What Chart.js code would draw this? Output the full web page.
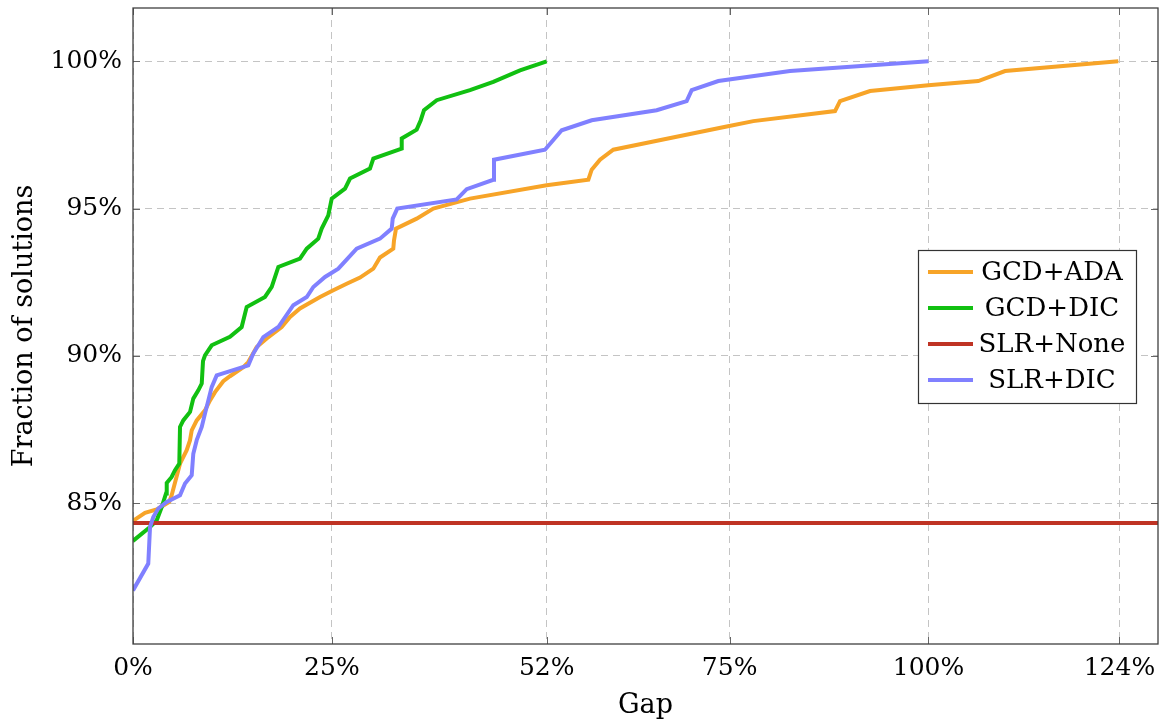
<!DOCTYPE html>
<html>
<head>
<meta charset="utf-8">
<script src="https://cdn.jsdelivr.net/npm/chart.js@4.4.1/dist/chart.umd.min.js"></script>
<style>
  html, body { margin: 0; padding: 0; background: #fff; }
  #wrap { width: 1159px; height: 723px; }
</style>
</head>
<body>
<div id="wrap"><canvas id="grafica" width="1159" height="723"></canvas></div>
<script>
// values (gap in %, fraction of solutions in %)
const seriesNames = ['GCD+ADA', 'GCD+DIC', 'SLR+None', 'SLR+DIC'];
const seriesColors = ['#F7A428', '#11C011', '#BF3324', '#8080FF'];

const gcdAdaX = [0, 1.51, 2.98, 3.61, 4.56, 4.86, 5.91, 6.75, 7.17, 7.38, 8.01, 9.05, 9.68, 10.31, 11.35,
  12.19, 13.87, 14.49, 15.55, 16.81, 18.69, 19.74, 20.99, 23.51, 25.18, 26.86, 28.54, 30.21, 31.05, 32.72,
  32.81, 33.06, 35.66, 37.75, 42.36, 52.0, 57.24, 57.66, 58.71, 60.38, 65.41, 74.63, 77.98, 88.25, 88.88,
  92.65, 99.97, 106.26, 109.62, 123.86];
const gcdAdaY = [84.40, 84.67, 84.79, 84.89, 85.04, 85.27, 86.34, 86.80, 87.14, 87.47, 87.81, 88.15, 88.49, 88.77, 89.14,
  89.31, 89.62, 89.79, 90.30, 90.59, 90.98, 91.32, 91.61, 92.00, 92.23, 92.45, 92.66, 92.96, 93.34, 93.64,
  93.92, 94.32, 94.66, 95.00, 95.34, 95.79, 95.98, 96.32, 96.66, 97.00, 97.28, 97.79, 97.97, 98.31, 98.65,
  98.99, 99.19, 99.33, 99.67, 100];

const gcdDicX = [0, 2.14, 2.98, 3.61, 4.15, 4.24, 4.86, 5.28, 5.82, 5.91, 6.32, 7.17, 7.58, 8.21, 8.64,
  8.80, 9.05, 9.89, 12.19, 13.66, 14.29, 16.59, 17.44, 18.27, 20.99, 21.84, 23.29, 23.72, 24.55, 24.98,
  26.65, 27.28, 29.79, 30.21, 33.78, 33.78, 35.66, 36.17, 36.58, 38.18, 42.36, 45.29, 48.65, 52.0];
const gcdDicY = [83.72, 84.19, 84.42, 84.87, 85.33, 85.69, 85.89, 86.12, 86.34, 87.59, 87.81, 88.10, 88.55, 88.83, 89.06,
  89.82, 90.02, 90.36, 90.65, 90.98, 91.66, 92.00, 92.34, 93.02, 93.30, 93.64, 93.98, 94.32, 94.77, 95.34,
  95.68, 96.02, 96.36, 96.70, 97.04, 97.38, 97.68, 98.00, 98.34, 98.68, 99.02, 99.30, 99.69, 100];

const slrNoneX = [0, 128.85];
const slrNoneY = [84.33, 84.33];

const slrDicX = [0, 1.92, 2.14, 2.55, 3.18, 4.24, 5.91, 6.54, 7.38, 7.58, 8.01, 8.64, 9.05, 9.47, 9.89,
  10.52, 14.49, 15.12, 16.38, 18.27, 20.15, 21.84, 22.67, 24.14, 25.81, 28.12, 31.05, 32.52, 32.65, 33.22,
  40.69, 41.95, 45.29, 45.38, 51.79, 53.89, 57.66, 65.83, 69.60, 70.23, 73.58, 82.59, 100];
const slrDicY = [82.04, 82.95, 84.19, 84.53, 84.82, 85.04, 85.27, 85.67, 85.95, 86.68, 87.14, 87.59, 88.04, 88.49, 88.94,
  89.34, 89.68, 90.08, 90.64, 90.98, 91.72, 92.00, 92.34, 92.68, 92.96, 93.64, 93.98, 94.32, 94.66, 95.00,
  95.31, 95.66, 95.98, 96.66, 97.00, 97.66, 98.00, 98.34, 98.65, 99.02, 99.33, 99.67, 100];

const xTicks = [0, 25, 52, 75, 100, 124];
const yTicks = [85, 90, 95, 100];

const fuente = "'DejaVu Serif', serif";

function puntos(xs, ys) {
  return xs.map((x, i) => ({ x: x, y: ys[i] }));
}

const series = [
  puntos(gcdAdaX, gcdAdaY),
  puntos(gcdDicX, gcdDicY),
  puntos(slrNoneX, slrNoneY),
  puntos(slrDicX, slrDicY)
];

// frame, inner tick marks and the boxed legend, drawn like pgfplots does
const marcoPlugin = {
  id: 'marco',
  afterDatasetsDraw(chart) {
    const { ctx, chartArea: a, scales } = chart;
    ctx.save();
    ctx.strokeStyle = '#666';
    ctx.lineWidth = 1;
    ctx.beginPath();
    for (const v of xTicks) {
      const px = Math.round(scales.x.getPixelForValue(v)) + 0.5;
      ctx.moveTo(px, a.bottom); ctx.lineTo(px, a.bottom - 7);
      ctx.moveTo(px, a.top); ctx.lineTo(px, a.top + 7);
    }
    for (const v of yTicks) {
      const py = Math.round(scales.y.getPixelForValue(v)) + 0.5;
      ctx.moveTo(a.left, py); ctx.lineTo(a.left + 7, py);
      ctx.moveTo(a.right, py); ctx.lineTo(a.right - 7, py);
    }
    ctx.stroke();
    ctx.strokeStyle = '#404040';
    ctx.lineWidth = 1.3;
    ctx.strokeRect(a.left, a.top, a.right - a.left, a.bottom - a.top);

    // legend
    const lx = 918, ly = 250, lw = 218, lh = 153;
    ctx.fillStyle = '#fff';
    ctx.fillRect(lx, ly, lw, lh);
    ctx.strokeStyle = '#333';
    ctx.lineWidth = 1.2;
    ctx.strokeRect(lx + 0.5, ly + 0.5, lw, lh);
    ctx.font = '26px ' + fuente;
    ctx.textAlign = 'center';
    ctx.textBaseline = 'middle';
    seriesNames.forEach((nombre, i) => {
      const cy = ly + 22 + i * 36;
      ctx.strokeStyle = seriesColors[i];
      ctx.lineWidth = 4;
      ctx.beginPath();
      ctx.moveTo(lx + 10, cy);
      ctx.lineTo(lx + 55, cy);
      ctx.stroke();
      ctx.fillStyle = '#000';
      ctx.fillText(nombre, lx + 134, cy + 1);
    });
    ctx.restore();
  }
};

const ctx = document.getElementById('grafica').getContext('2d');

new Chart(ctx, {
  type: 'line',
  data: {
    datasets: series.map((d, i) => ({
      label: seriesNames[i],
      data: d,
      borderColor: seriesColors[i],
      backgroundColor: seriesColors[i],
      borderWidth: 4,
      pointRadius: 0,
      tension: 0,
      fill: false,
      order: 4 - i
    }))
  },
  options: {
    responsive: false,
    animation: false,
    layout: { padding: { top: 8, right: 1, left: 0, bottom: 0 } },
    plugins: {
      legend: { display: false },
      tooltip: { enabled: false }
    },
    scales: {
      x: {
        type: 'linear',
        min: 0,
        max: 128.85,
        afterFit: (s) => { s.height = 79; s.paddingLeft = 0; s.paddingRight = 0; },
        afterBuildTicks: (s) => { s.ticks = xTicks.map(v => ({ value: v })); },
        grid: { color: '#c4c4c4', lineWidth: 1, drawTicks: false },
        border: { display: false, dash: [7, 5] },
        ticks: {
          autoSkip: false,
          maxRotation: 0,
          padding: 9,
          color: '#000',
          font: { family: fuente, size: 25 },
          callback: (v) => v + '%'
        },
        title: {
          display: true,
          text: 'Gap',
          color: '#000',
          font: { family: fuente, size: 27 },
          padding: { top: 0, bottom: 1 }
        }
      },
      y: {
        type: 'linear',
        min: 80.22,
        max: 101.81,
        afterFit: (s) => { s.width = 133; s.paddingTop = 0; s.paddingBottom = 0; },
        afterBuildTicks: (s) => { s.ticks = yTicks.map(v => ({ value: v })); },
        grid: { color: '#c4c4c4', lineWidth: 1, drawTicks: false },
        border: { display: false, dash: [7, 5] },
        ticks: {
          padding: 11,
          color: '#000',
          font: { family: fuente, size: 25 },
          callback: (v) => v + '%'
        },
        title: {
          display: true,
          text: 'Fraction of solutions',
          color: '#000',
          font: { family: fuente, size: 27 },
          padding: { top: 9, bottom: 0 }
        }
      }
    }
  },
  plugins: [marcoPlugin]
});
</script>
</body>
</html>
